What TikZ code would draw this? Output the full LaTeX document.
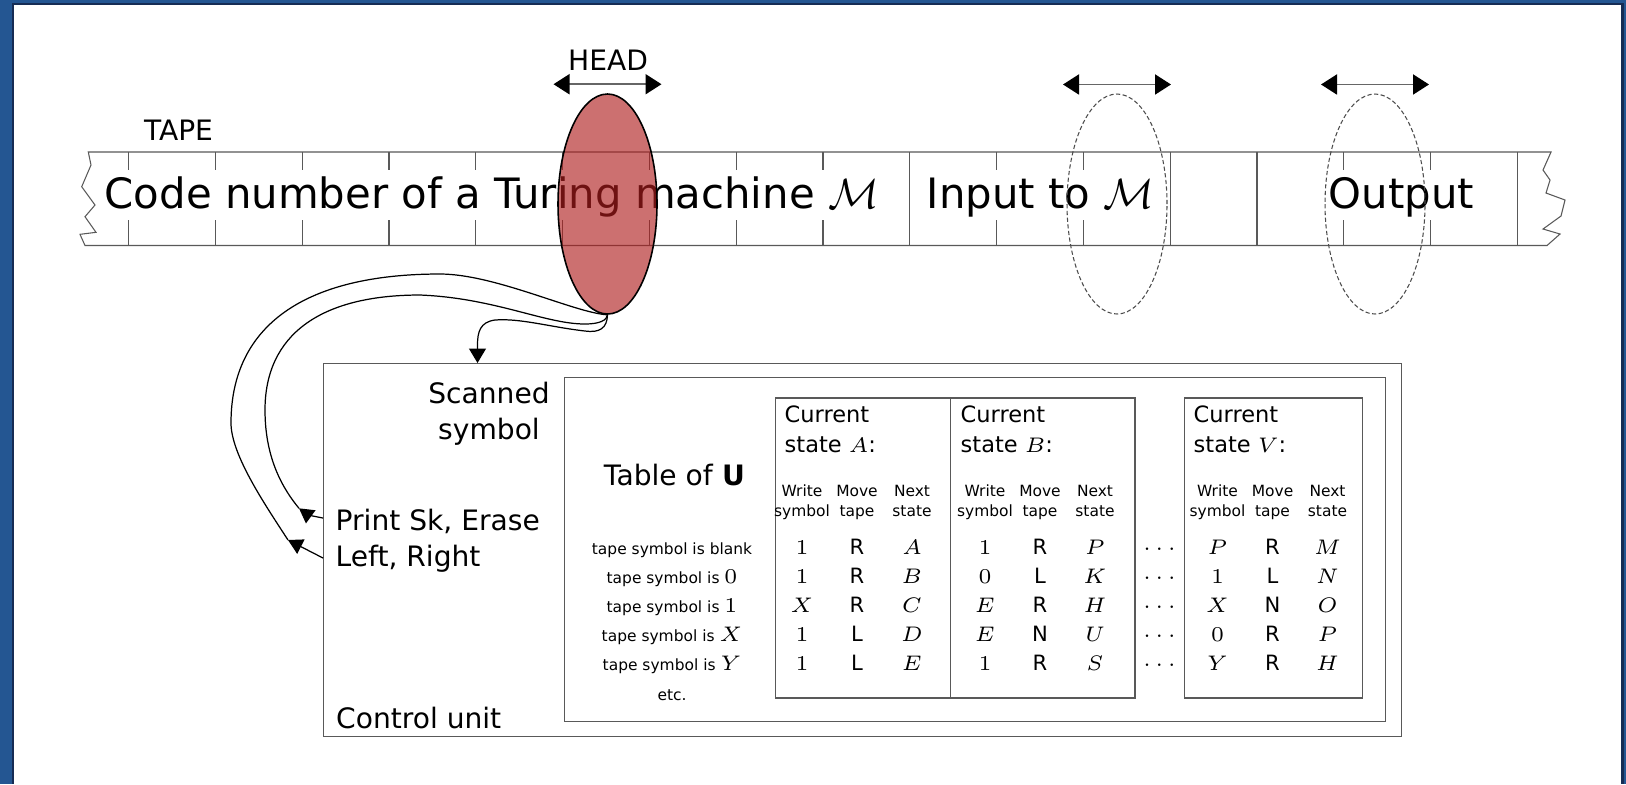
\documentclass[tikz,border=0pt]{standalone}
\usepackage[no-math]{fontspec}
\setmainfont{DejaVu Sans}
\usetikzlibrary{arrows.meta, shapes.geometric}
\definecolor{frameblue}{RGB}{36,86,146}
\definecolor{framenavy}{RGB}{22,44,84}
\definecolor{headred}{RGB}{175,30,30}
\newcommand{\tmrow}[3]{\makebox[5.5mm]{#1}\makebox[5.5mm]{#2}\makebox[5.5mm]{#3}}
\newcommand{\twoline}[3][c]{\begin{tabular}[t]{@{}#1@{}}#2\\#3\end{tabular}}
\newcommand{\bigM}{{\fontsize{12.8}{15}\selectfont$\mathcal{M}$}}
\newcommand{\sym}[1]{{\fontsize{6}{7}\selectfont$#1$}}

\begin{document}
\begin{tikzpicture}[
    tapeline/.style={draw=black!65, line width=0.3pt},
    tapetxt/.style={font=\fontsize{11.9}{14}\selectfont, fill=white, inner xsep=0.3mm, inner ysep=0.7mm, text height=3.1mm, text depth=0.5mm, anchor=base west},
    ghost/.style={ellipse, draw=black!70, dash pattern=on 1.2pt off 0.7pt, line width=0.3pt, minimum width=10mm, minimum height=22mm, inner sep=0},
    headmove/.style={{Triangle[length=1.6mm,width=2mm,black]}-{Triangle[length=1.6mm,width=2mm,black]}, draw=black!60, line width=0.55pt},
    lbl/.style={font=\fontsize{8}{10.4}\selectfont, inner sep=0},
    panel/.style={draw=black!65, line width=0.4pt, inner sep=0, anchor=north west},
    statehd/.style={font=\fontsize{6.4}{8.54}\selectfont, inner sep=0, anchor=base west},
    colhd/.style={font=\fontsize{4.4}{5.7}\selectfont, inner sep=0, anchor=base},
    val/.style={font=\fontsize{6}{7}\selectfont, inner sep=0, anchor=base},
    rowlbl/.style={font=\fontsize{4.4}{5}\selectfont, inner sep=0, anchor=base},
    wire/.style={line width=0.35pt},
    cmdarrow/.style={-{Triangle[length=1.45mm,width=1.6mm]}},
    scanarrow/.style={-{Triangle[length=1.45mm,width=1.7mm]}}
    ]
    \useasboundingbox (0,0) rectangle (16.26,-7.84);

    % 边框
    \fill[frameblue] (0,0) rectangle (16.26,-7.84);
    \fill[framenavy] (0.117,-0.033) rectangle (16.235,-7.84);
    \fill[white] (0.143,-0.05) rectangle (16.205,-7.84);

    % 纸带
    \draw[tapeline] (0.883,-1.52) -- (15.51,-1.52) -- (15.43,-1.70) -- (15.50,-1.80) -- (15.46,-1.93) -- (15.65,-2.00) -- (15.61,-2.16) -- (15.43,-2.29) -- (15.60,-2.34) -- (15.47,-2.455)
        -- (0.85,-2.455) -- (0.80,-2.343) -- (0.96,-2.323) -- (0.85,-2.167) -- (0.95,-2.05) -- (0.817,-1.867) -- (0.91,-1.65) -- cycle;
    \foreach \i in {0,...,16}
        \draw[tapeline] (1.286+0.868*\i,-1.52) -- ++(0,-0.935);
    \node[tapetxt] (code) at (1.01,-2.08) {Code number of a Turing machine \bigM};
    \node[tapetxt] (input) at (9.23,-2.08) {Input to \bigM};
    \node[tapetxt] (output) at (13.25,-2.08) {Output};
    \node[lbl, anchor=base] (tapelbl) at (1.785,-1.40) {TAPE};

    % 读写头
    \node[ellipse, draw, line width=0.45pt, fill=headred, fill opacity=0.63, minimum width=9.9mm, minimum height=22mm, inner sep=0] (head) at (6.075,-2.04) {};
    \node[ghost] (inhead) at (11.17,-2.04) {};
    \node[ghost] (outhead) at (13.75,-2.04) {};
    \draw[headmove] ([xshift=-5.4mm,yshift=0.9mm]head.north) -- ([xshift=5.4mm,yshift=0.9mm]head.north);
    \draw[headmove] ([xshift=-5.4mm,yshift=0.9mm]inhead.north) -- ([xshift=5.4mm,yshift=0.9mm]inhead.north);
    \draw[headmove] ([xshift=-5.4mm,yshift=0.9mm]outhead.north) -- ([xshift=5.4mm,yshift=0.9mm]outhead.north);
    \node[lbl, anchor=base] (headlbl) at (6.08,-0.70) {HEAD};

    % 控制器
    \node[panel, minimum width=107.8mm, minimum height=37.3mm] (cu) at (3.23,-3.63) {};
    \node[panel, minimum width=82.15mm, minimum height=34.35mm] (tbl) at (5.635,-3.77) {};
    \node[lbl, anchor=base] (scanlbl) at (4.89,-4.033) {\twoline{Scanned}{symbol}};
    \node[lbl, anchor=base west] (cmdlbl) at (3.35,-5.30) {\twoline[l]{Print Sk, Erase}{Left, Right}};
    \node[lbl, anchor=base west] (culbl) at (3.355,-7.28) {Control unit};
    \node[lbl, anchor=base] (tbllbl) at (6.745,-4.85) {Table of \textbf{U}};

    % 状态表
    \node[panel, minimum width=17.54mm, minimum height=30mm] (stA) at (7.746,-3.973) {};
    \node[panel, minimum width=18.44mm, minimum height=30mm] (stB) at (9.50,-3.973) {};
    \node[panel, minimum width=17.8mm, minimum height=30mm] (stV) at (11.84,-3.973) {};
    \node[statehd] (tA) at (7.84,-4.227) {\twoline[l]{Current}{state $A$:}};
    \node[statehd] (tB) at (9.60,-4.227) {\twoline[l]{Current}{state $B$:}};
    \node[statehd] (tV) at (11.93,-4.227) {\twoline[l]{Current}{state $V$:}};
    \node[colhd] (hA) at (8.57,-4.967) {\tmrow{\twoline{Write}{symbol}}{\twoline{Move}{tape}}{\twoline{Next}{state}}};
    \node[colhd] (hB) at (10.40,-4.967) {\tmrow{\twoline{Write}{symbol}}{\twoline{Move}{tape}}{\twoline{Next}{state}}};
    \node[colhd] (hV) at (12.725,-4.967) {\tmrow{\twoline{Write}{symbol}}{\twoline{Move}{tape}}{\twoline{Next}{state}}};

    \node[rowlbl] (r1) at (6.72,-5.54) {tape symbol is blank};
    \node[val] (a1) at (8.57,-5.54) {\tmrow{$1$}{R}{$A$}};
    \node[val] (b1) at (10.40,-5.54) {\tmrow{$1$}{R}{$P$}};
    \node[val] (d1) at (11.595,-5.54) {$\cdots$};
    \node[val] (v1) at (12.725,-5.54) {\tmrow{$P$}{R}{$M$}};

    \node[rowlbl] (r2) at (6.72,-5.83) {tape symbol is \sym{0}};
    \node[val] (a2) at (8.57,-5.83) {\tmrow{$1$}{R}{$B$}};
    \node[val] (b2) at (10.40,-5.83) {\tmrow{$0$}{L}{$K$}};
    \node[val] (d2) at (11.595,-5.83) {$\cdots$};
    \node[val] (v2) at (12.725,-5.83) {\tmrow{$1$}{L}{$N$}};

    \node[rowlbl] (r3) at (6.72,-6.12) {tape symbol is \sym{1}};
    \node[val] (a3) at (8.57,-6.12) {\tmrow{$X$}{R}{$C$}};
    \node[val] (b3) at (10.40,-6.12) {\tmrow{$E$}{R}{$H$}};
    \node[val] (d3) at (11.595,-6.12) {$\cdots$};
    \node[val] (v3) at (12.725,-6.12) {\tmrow{$X$}{N}{$O$}};

    \node[rowlbl] (r4) at (6.72,-6.41) {tape symbol is \sym{X}};
    \node[val] (a4) at (8.57,-6.41) {\tmrow{$1$}{L}{$D$}};
    \node[val] (b4) at (10.40,-6.41) {\tmrow{$E$}{N}{$U$}};
    \node[val] (d4) at (11.595,-6.41) {$\cdots$};
    \node[val] (v4) at (12.725,-6.41) {\tmrow{$0$}{R}{$P$}};

    \node[rowlbl] (r5) at (6.72,-6.70) {tape symbol is \sym{Y}};
    \node[val] (a5) at (8.57,-6.70) {\tmrow{$1$}{L}{$E$}};
    \node[val] (b5) at (10.40,-6.70) {\tmrow{$1$}{R}{$S$}};
    \node[val] (d5) at (11.595,-6.70) {$\cdots$};
    \node[val] (v5) at (12.725,-6.70) {\tmrow{$Y$}{R}{$H$}};

    \node[rowlbl] (r6) at (6.72,-7.00) {etc.};

    % 连线
    \coordinate (pr) at (2.99,-5.083);
    \coordinate (mv) at (2.88,-5.40);
    \draw[wire, cmdarrow] ([yshift=-15.5mm]cu.north west) to[out=170,in=-36] (pr);
    \draw[wire, cmdarrow] ([yshift=-19.5mm]cu.north west) -- (mv);
    \draw[wire] (pr) .. controls (2.84,-4.90) and (2.65,-4.60) .. (2.65,-4.10) .. controls (2.65,-3.35) and (3.20,-2.95) .. (4.20,-2.95)
        .. controls (4.95,-2.98) and (5.45,-3.24) .. (5.85,-3.24) .. controls (6.00,-3.24) and (6.07,-3.20) .. (head.south);
    \draw[wire] (mv) .. controls (2.66,-5.06) and (2.31,-4.55) .. (2.31,-4.23) .. controls (2.31,-3.26) and (3.04,-2.74) .. (4.40,-2.74)
        .. controls (4.95,-2.74) and (5.75,-3.13) .. (head.south);
    \draw[wire, scanarrow] (head.south) .. controls (6.07,-3.28) and (6.00,-3.33) .. (5.85,-3.31) .. controls (5.50,-3.27) and (5.20,-3.18) .. (4.95,-3.20)
        .. controls (4.80,-3.22) and (4.775,-3.32) .. (4.775,-3.45) -- ([xshift=15.45mm]cu.north west);

\end{tikzpicture}
\end{document}
